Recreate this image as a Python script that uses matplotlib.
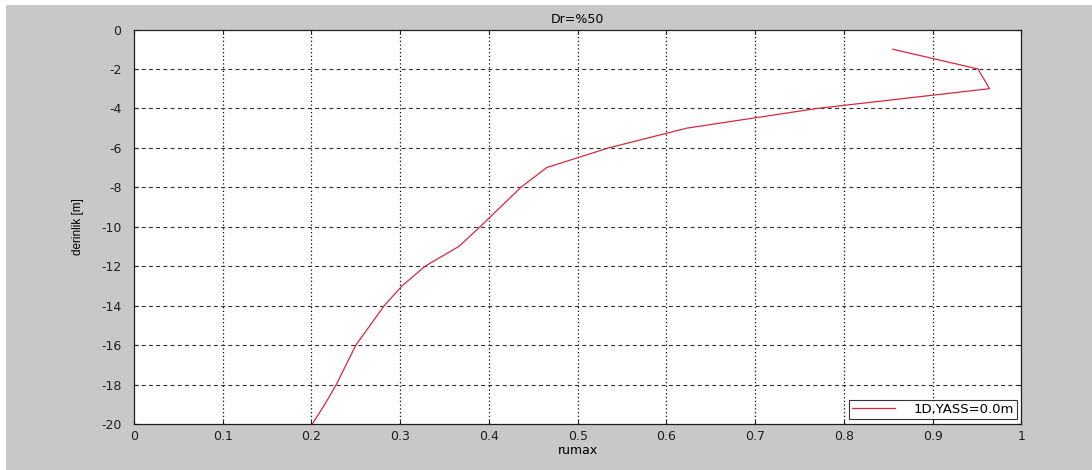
import matplotlib
matplotlib.use("Agg")
import matplotlib.pyplot as plt
from matplotlib.patches import Rectangle
import numpy as np

# depth (m) and max excess pore pressure ratio
depth = [-1, -2, -3, -4, -5, -6, -7, -8, -9, -10,
         -11, -12, -13, -14, -15, -16, -17, -18, -19, -20]
rumax = [0.855, 0.951, 0.964, 0.770, 0.623, 0.535, 0.465, 0.436, 0.413, 0.390,
         0.366, 0.328, 0.302, 0.282, 0.266, 0.250, 0.239, 0.228, 0.215, 0.201]

x_ticks = np.arange(0, 1.01, 0.1)
x_labels = ["0", "0.1", "0.2", "0.3", "0.4", "0.5", "0.6", "0.7", "0.8", "0.9", "1"]
y_ticks = np.arange(-20, 1, 2)

plt.rcParams['font.family'] = ['DejaVu Sans']
plt.rcParams['axes.unicode_minus'] = False

fig = plt.figure(figsize=(10.92, 4.70), dpi=100, facecolor='white')
# grey window background
fig.patches.append(Rectangle((6 / 1092, 0), 1, 1 - 5 / 470, transform=fig.transFigure,
                             facecolor='#c8c8c8', edgecolor='none', zorder=-10))

ax = fig.add_axes([0.1227, 0.0979, 0.8127, 0.8393])
ax.set_facecolor('white')

ax.plot(rumax, depth, color='#d8283c', lw=0.9, label='1D,YASS=0.0m')

ax.set_xlim(0, 1)
ax.set_ylim(-20, 0)
ax.set_xticks(x_ticks)
ax.set_xticklabels(x_labels)
ax.set_yticks(y_ticks)
ax.tick_params(direction='in', length=3, width=0.8, labelsize=9, colors='#202020',
               top=True, right=True)
ax.tick_params(axis='y', pad=9)
ax.tick_params(axis='x', pad=4)

# vertical grid dotted, horizontal grid dashed
for xv in x_ticks[1:-1]:
    ax.axvline(xv, color='black', lw=0.9, ls=(0, (1, 2)), zorder=0)
for yv in y_ticks[1:-1]:
    ax.axhline(yv, color='#303030', lw=0.8, ls=(0, (3.5, 3)), zorder=0)

for s in ax.spines.values():
    s.set_color('#202020')
    s.set_linewidth(0.9)

ax.set_title("Dr=%50", fontsize=9, pad=5)
ax.set_xlabel("rumax", fontsize=9, labelpad=1)
ax.set_ylabel("derinlik [m]", fontsize=8.5, family='Liberation Sans', labelpad=12)

leg = ax.legend(loc='lower right', prop={'size': 9.5}, frameon=True, fancybox=False,
                borderpad=0.25, handlelength=3.2, handletextpad=1.4,
                borderaxespad=0.35)
leg.get_frame().set_edgecolor('black')
leg.get_frame().set_linewidth(0.8)

fig.savefig("out.png", dpi=100, facecolor=fig.get_facecolor())
